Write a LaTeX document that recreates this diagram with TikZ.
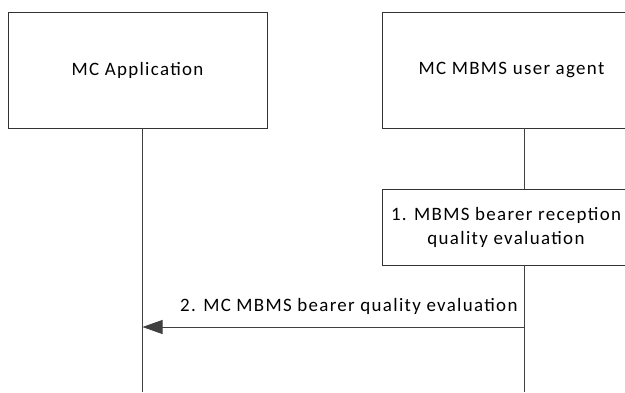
\documentclass[tikz,border=0pt]{standalone}
\usepackage{fontspec}
\setmainfont{Carlito}[LetterSpace=7]
\usetikzlibrary{arrows.meta,positioning}
\begin{document}
\begin{tikzpicture}[x=1bp,y=-1bp]
		\tikzset{entity/.style = {shape=rectangle, draw=black!80, line width=0.8bp, minimum width=259bp, minimum height=116bp, inner sep=0pt, font=\fontsize{19}{22}\selectfont},
			procbox/.style = {shape=rectangle, draw=black!80, line width=0.8bp, minimum width=248bp, minimum height=76bp, inner sep=0pt, align=center, font=\fontsize{19}{24}\selectfont},
			lifeline/.style = {draw=black!75, line width=0.8bp},
			msg/.style = {lifeline, -{Triangle[length=20bp, width=14bp, fill=black!75]}}}

		\useasboundingbox (0,0) rectangle (625,392);

		\node[entity] (app) at (137.5,70) {MC Application};
		\node[entity] (ua) at (511.5,70) {MC MBMS user agent};
		\node[procbox] (eval) at (506,227) {1. MBMS bearer reception\\quality evaluation};

		\coordinate (app_end) at (142.5,392);
		\coordinate (ua_end) at (524,392);
		\coordinate (m2_src) at (524,327);
		\coordinate (m2_dst) at (142.5,327);

		\draw[lifeline] (app.south -| app_end)--(app_end);
		\draw[lifeline] (ua.south -| ua_end)--(eval.north -| ua_end);
		\draw[lifeline] (eval.south -| ua_end)--(ua_end);
		\draw[msg] (m2_src)--(m2_dst);

		\node[anchor=base east, font=\fontsize{19}{22}\selectfont] (m2_label) at (521,311) {2. MC MBMS bearer quality evaluation};

	\end{tikzpicture}
\end{document}
